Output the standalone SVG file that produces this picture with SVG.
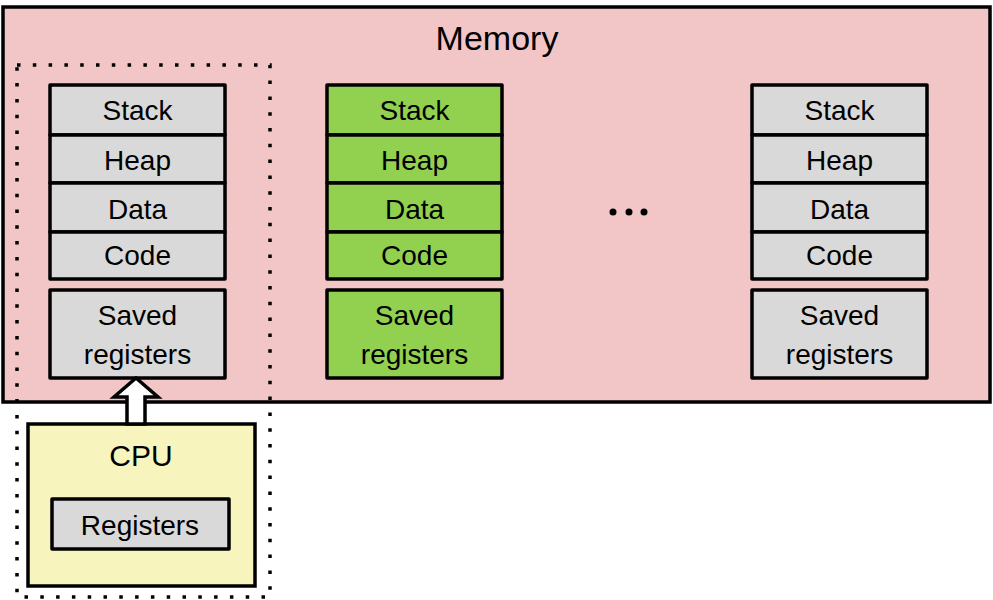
<svg xmlns="http://www.w3.org/2000/svg" width="993" height="600" viewBox="0 0 993 600">
<style>
text{font-family:"Liberation Sans",Arial,sans-serif;font-size:28px;fill:#000;text-anchor:middle}
.seg{stroke:#000;stroke-width:3.5;stroke-linejoin:round}
.grey{fill:#d9d9d9}
.green{fill:#92d050}
</style>
<rect width="993" height="600" fill="#fff"/>
<g id="memory">
<rect x="3" y="7" width="987" height="395" fill="#f2c6c7" stroke="#000" stroke-width="3.5"/>
<text x="497" y="50" style="font-size:34px">Memory</text>
</g>
<g id="process1">
<rect class="seg grey" x="50" y="85" width="175" height="50"/>
<rect class="seg grey" x="50" y="135" width="175" height="48"/>
<rect class="seg grey" x="50" y="183" width="175" height="49"/>
<rect class="seg grey" x="50" y="232" width="175" height="47"/>
<text x="137.5" y="120">Stack</text>
<text x="137.5" y="170">Heap</text>
<text x="137.5" y="219">Data</text>
<text x="137.5" y="265">Code</text>
<rect class="seg grey" x="50" y="290" width="175" height="88"/>
<text x="137.5" y="325">Saved</text>
<text x="137.5" y="364">registers</text>
</g>
<g id="process2">
<rect class="seg green" x="327" y="85" width="175" height="50"/>
<rect class="seg green" x="327" y="135" width="175" height="48"/>
<rect class="seg green" x="327" y="183" width="175" height="49"/>
<rect class="seg green" x="327" y="232" width="175" height="47"/>
<text x="414.5" y="120">Stack</text>
<text x="414.5" y="170">Heap</text>
<text x="414.5" y="219">Data</text>
<text x="414.5" y="265">Code</text>
<rect class="seg green" x="327" y="290" width="175" height="88"/>
<text x="414.5" y="325">Saved</text>
<text x="414.5" y="364">registers</text>
</g>
<g id="ellipsis">
<circle cx="613" cy="212" r="3.5"/>
<circle cx="629" cy="212" r="3.5"/>
<circle cx="644" cy="212" r="3.5"/>
</g>
<g id="process3">
<rect class="seg grey" x="752" y="85" width="175" height="50"/>
<rect class="seg grey" x="752" y="135" width="175" height="48"/>
<rect class="seg grey" x="752" y="183" width="175" height="49"/>
<rect class="seg grey" x="752" y="232" width="175" height="47"/>
<text x="839.5" y="120">Stack</text>
<text x="839.5" y="170">Heap</text>
<text x="839.5" y="219">Data</text>
<text x="839.5" y="265">Code</text>
<rect class="seg grey" x="752" y="290" width="175" height="88"/>
<text x="839.5" y="325">Saved</text>
<text x="839.5" y="364">registers</text>
</g>
<g id="cpu">
<rect x="28" y="424" width="227" height="162" fill="#f7f5bd" stroke="#000" stroke-width="3.5"/>
<text x="141" y="466" style="font-size:30px">CPU</text>
<rect class="seg grey" x="52" y="499" width="177" height="50"/>
<text x="140" y="535">Registers</text>
</g>
<g id="context">
<rect x="17" y="65" width="253" height="532" fill="none" stroke="#000" stroke-width="3.5" stroke-dasharray="3.5 12.3"/>
</g>
<g id="connectors">
<polygon points="127,424 127,397 114,397 136,378 158,397 145,397 145,424" fill="#fff" stroke="#000" stroke-width="3.5" stroke-linejoin="miter"/>
</g>
</svg>
